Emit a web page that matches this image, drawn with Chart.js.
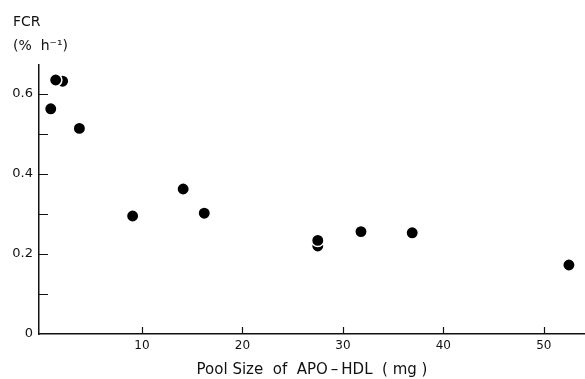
<!DOCTYPE html>
<html>
<head>
<meta charset="utf-8">
<script src="https://cdn.jsdelivr.net/npm/chart.js@4/dist/chart.umd.min.js"></script>
<style>
  html, body { margin: 0; padding: 0; background: #fff; }
  #wrap { width: 585px; height: 379px; position: relative; }
</style>
</head>
<body>
<div id="wrap"><canvas id="c"></canvas></div>
<script>
// Pool size of APO-HDL (mg) and fractional catabolic rate (% h^-1)
// (points listed back-to-front so overlapping dots stack as in the figure)
const poolSize = [0.92, 2.1, 1.41, 3.77, 9.07, 14.1, 16.2, 27.5, 27.5, 31.8, 36.9, 52.5];
const fcr      = [0.563, 0.632, 0.635, 0.514, 0.295, 0.3625, 0.302, 0.22, 0.234, 0.256, 0.253, 0.1725];

const xTickValues = [10, 20, 30, 40, 50];
const xTickLabels = ['10', '20', '30', '40', '50'];
const yTickValues = [0, 0.1, 0.2, 0.3, 0.4, 0.5, 0.6];
const yTickLabels = ['0', '', '0.2', '', '0.4', '', '0.6'];

const yTitleLines = ['FCR', '(%  h\u207B\u00B9)'];
const xTitle = 'Pool Size  of  APO\u2009\u2013\u2009HDL  ( mg )';

const INK = '#111';
const FONT = 'DejaVu Sans';

const innerTicks = {
  id: 'innerTicks',
  afterDraw(chart) {
    const ctx = chart.ctx;
    const xs = chart.scales.x, ys = chart.scales.y;
    const area = chart.chartArea;
    ctx.save();
    ctx.strokeStyle = INK;
    ctx.lineWidth = 1.2;
    ctx.beginPath();
    xs.ticks.forEach(t => {
      const px = Math.round(xs.getPixelForValue(t.value)) + 0.5;
      ctx.moveTo(px, area.bottom);
      ctx.lineTo(px, area.bottom - 7);
    });
    ys.ticks.forEach(t => {
      if (t.value === 0) return;
      const py = Math.round(ys.getPixelForValue(t.value)) + 0.5;
      ctx.moveTo(area.left, py);
      ctx.lineTo(area.left + 9, py);
    });
    ctx.stroke();
    // axis-unit label at top left
    ctx.fillStyle = INK;
    ctx.textBaseline = 'middle';
    ctx.textAlign = 'left';
    ctx.font = '14px "' + FONT + '"';
    ctx.fillText(yTitleLines[0], 13, 22);
    ctx.fillText(yTitleLines[1], 13, 46);
    ctx.restore();
  }
};

new Chart(document.getElementById('c'), {
  type: 'scatter',
  data: {
    datasets: [{
      data: poolSize.map((x, i) => ({ x: x, y: fcr[i] })),
      backgroundColor: '#000',
      borderColor: '#fff',
      borderWidth: 1.5,
      pointRadius: 6.2,
      pointHoverRadius: 6.2
    }]
  },
  options: {
    responsive: true,
    maintainAspectRatio: false,
    animation: false,
    events: [],
    layout: { autoPadding: false, padding: { top: 65, right: 0, bottom: 0, left: 0 } },
    plugins: { legend: { display: false }, tooltip: { enabled: false } },
    scales: {
      x: {
        type: 'linear',
        min: -0.25,
        max: 54.1,
        afterBuildTicks: s => { s.ticks = xTickValues.map(v => ({ value: v })); },
        afterFit: s => { s.height = 45; },
        grid: { display: false, drawTicks: false },
        border: { display: true, color: INK, width: 1.5 },
        ticks: {
          color: INK,
          padding: 5,
          maxRotation: 0,
          autoSkip: false,
          font: { family: FONT, size: 12 },
          callback: (v, i) => xTickLabels[i]
        },
        title: {
          display: true,
          text: xTitle,
          color: INK,
          font: { family: FONT, size: 15 },
          padding: { top: 6, bottom: 0 }
        }
      },
      y: {
        type: 'linear',
        min: 0,
        max: 0.6725,
        afterBuildTicks: s => { s.ticks = yTickValues.map(v => ({ value: v })); },
        afterFit: s => { s.width = 39; },
        grid: { display: false, drawTicks: false },
        border: { display: true, color: INK, width: 1.5 },
        ticks: {
          color: INK,
          padding: 6,
          autoSkip: false,
          font: { family: FONT, size: 13 },
          callback: (v, i) => yTickLabels[i]
        }
      }
    }
  },
  plugins: [innerTicks]
});
</script>
</body>
</html>
